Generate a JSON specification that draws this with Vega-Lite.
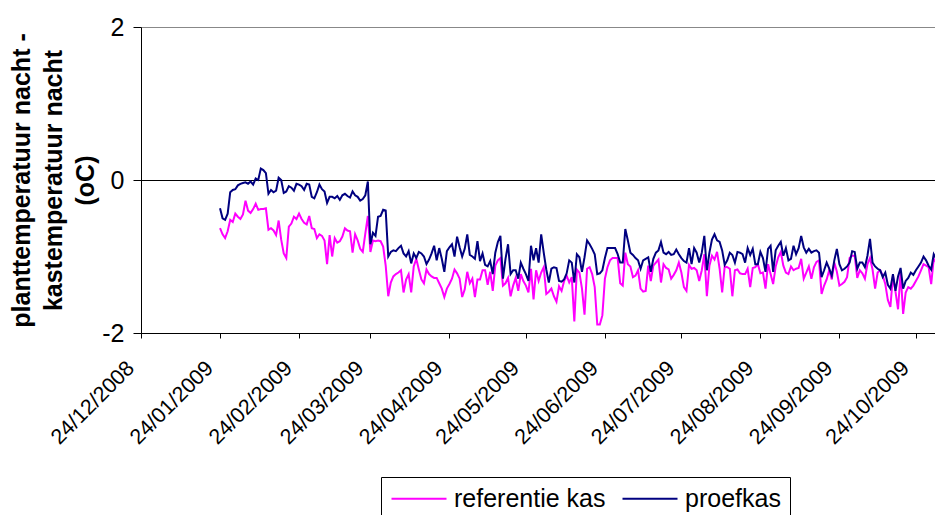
{
"$schema": "https://vega.github.io/schema/vega-lite/v6.json",
"width": 794, "height": 306,
"autosize": {"type": "none"},
"padding": {"left": 141, "top": 27, "right": 0, "bottom": 182},
"background": "white",
"config": {"view": {"stroke": null}, "font": "Liberation Sans"},
"data": {"format": {"parse": {"d": "utc:'%Y-%m-%d'"}}, "values": [
{"d":"2009-01-24","r":-0.63,"p":-0.37},{"d":"2009-01-25","r":-0.71,"p":-0.50},{"d":"2009-01-26","r":-0.76,"p":-0.52},{"d":"2009-01-27","r":-0.67,"p":-0.44},{"d":"2009-01-28","r":-0.52,"p":-0.16},{"d":"2009-01-29","r":-0.55,"p":-0.13},{"d":"2009-01-30","r":-0.44,"p":-0.12},{"d":"2009-01-31","r":-0.48,"p":-0.07},
{"d":"2009-02-01","r":-0.51,"p":-0.05},{"d":"2009-02-02","r":-0.45,"p":-0.04},{"d":"2009-02-03","r":-0.27,"p":-0.03},{"d":"2009-02-04","r":-0.40,"p":-0.05},{"d":"2009-02-05","r":-0.43,"p":-0.02},{"d":"2009-02-06","r":-0.38,"p":-0.06},{"d":"2009-02-07","r":-0.31,"p":0.02},{"d":"2009-02-08","r":-0.39,"p":0.00},{"d":"2009-02-09","r":-0.38,"p":0.15},{"d":"2009-02-10","r":-0.38,"p":0.13},{"d":"2009-02-11","r":-0.37,"p":0.09},{"d":"2009-02-12","r":-0.65,"p":-0.18},{"d":"2009-02-13","r":-0.63,"p":-0.13},{"d":"2009-02-14","r":-0.66,"p":-0.16},{"d":"2009-02-15","r":-0.72,"p":-0.14},{"d":"2009-02-16","r":-0.53,"p":0.03},{"d":"2009-02-17","r":-0.78,"p":0.00},{"d":"2009-02-18","r":-0.96,"p":-0.17},{"d":"2009-02-19","r":-1.02,"p":-0.15},{"d":"2009-02-20","r":-0.61,"p":-0.08},{"d":"2009-02-21","r":-0.57,"p":-0.10},{"d":"2009-02-22","r":-0.48,"p":-0.14},{"d":"2009-02-23","r":-0.51,"p":-0.05},{"d":"2009-02-24","r":-0.44,"p":-0.06},{"d":"2009-02-25","r":-0.51,"p":-0.08},{"d":"2009-02-26","r":-0.56,"p":-0.13},{"d":"2009-02-27","r":-0.58,"p":-0.05},{"d":"2009-02-28","r":-0.47,"p":-0.06},
{"d":"2009-03-01","r":-0.63,"p":-0.22},{"d":"2009-03-02","r":-0.64,"p":-0.24},{"d":"2009-03-03","r":-0.76,"p":-0.16},{"d":"2009-03-04","r":-0.71,"p":-0.06},{"d":"2009-03-05","r":-0.73,"p":-0.12},{"d":"2009-03-06","r":-0.79,"p":-0.15},{"d":"2009-03-07","r":-1.10,"p":-0.30},{"d":"2009-03-08","r":-0.72,"p":-0.22},{"d":"2009-03-09","r":-1.00,"p":-0.22},{"d":"2009-03-10","r":-0.76,"p":-0.24},{"d":"2009-03-11","r":-0.82,"p":-0.21},{"d":"2009-03-12","r":-0.80,"p":-0.26},{"d":"2009-03-13","r":-0.74,"p":-0.20},{"d":"2009-03-14","r":-0.63,"p":-0.18},{"d":"2009-03-15","r":-0.66,"p":-0.21},{"d":"2009-03-16","r":-0.67,"p":-0.23},{"d":"2009-03-17","r":-0.95,"p":-0.15},{"d":"2009-03-18","r":-0.71,"p":-0.20},{"d":"2009-03-19","r":-0.79,"p":-0.22},{"d":"2009-03-20","r":-0.90,"p":-0.27},{"d":"2009-03-21","r":-0.94,"p":-0.25},{"d":"2009-03-22","r":-0.70,"p":-0.20},{"d":"2009-03-23","r":-0.47,"p":-0.02},{"d":"2009-03-24","r":-0.94,"p":-0.84},{"d":"2009-03-25","r":-0.79,"p":-0.69},{"d":"2009-03-26","r":-0.80,"p":-0.73},{"d":"2009-03-27","r":-0.79,"p":-0.48},{"d":"2009-03-28","r":-0.80,"p":-0.47},{"d":"2009-03-29","r":-0.87,"p":-0.39},{"d":"2009-03-30","r":-1.12,"p":-0.40},{"d":"2009-03-31","r":-1.52,"p":-1.00},
{"d":"2009-04-01","r":-1.34,"p":-0.94},{"d":"2009-04-02","r":-1.26,"p":-0.92},{"d":"2009-04-03","r":-1.23,"p":-0.93},{"d":"2009-04-04","r":-1.21,"p":-0.89},{"d":"2009-04-05","r":-1.18,"p":-0.86},{"d":"2009-04-06","r":-1.47,"p":-0.96},{"d":"2009-04-07","r":-1.30,"p":-1.00},{"d":"2009-04-08","r":-1.23,"p":-0.93},{"d":"2009-04-09","r":-1.47,"p":-1.09},{"d":"2009-04-10","r":-1.13,"p":-0.96},{"d":"2009-04-11","r":-1.03,"p":-1.02},{"d":"2009-04-12","r":-1.17,"p":-0.94},{"d":"2009-04-13","r":-1.30,"p":-0.96},{"d":"2009-04-14","r":-1.35,"p":-1.00},{"d":"2009-04-15","r":-1.17,"p":-1.10},{"d":"2009-04-16","r":-1.23,"p":-1.04},{"d":"2009-04-17","r":-1.26,"p":-0.96},{"d":"2009-04-18","r":-1.28,"p":-0.86},{"d":"2009-04-19","r":-1.28,"p":-1.05},{"d":"2009-04-20","r":-1.35,"p":-0.89},{"d":"2009-04-21","r":-1.42,"p":-1.03},{"d":"2009-04-22","r":-1.53,"p":-1.20},{"d":"2009-04-23","r":-1.42,"p":-0.93},{"d":"2009-04-24","r":-1.36,"p":-0.88},{"d":"2009-04-25","r":-1.29,"p":-0.84},{"d":"2009-04-26","r":-1.17,"p":-1.00},{"d":"2009-04-27","r":-1.22,"p":-0.74},{"d":"2009-04-28","r":-1.29,"p":-0.88},{"d":"2009-04-29","r":-1.53,"p":-1.00},{"d":"2009-04-30","r":-1.43,"p":-0.90},
{"d":"2009-05-01","r":-1.20,"p":-0.71},{"d":"2009-05-02","r":-1.35,"p":-0.98},{"d":"2009-05-03","r":-1.29,"p":-1.00},{"d":"2009-05-04","r":-1.53,"p":-1.03},{"d":"2009-05-05","r":-1.30,"p":-0.80},{"d":"2009-05-06","r":-1.30,"p":-1.06},{"d":"2009-05-07","r":-1.18,"p":-0.96},{"d":"2009-05-08","r":-1.18,"p":-1.11},{"d":"2009-05-09","r":-1.37,"p":-1.13},{"d":"2009-05-10","r":-1.20,"p":-1.06},{"d":"2009-05-11","r":-1.45,"p":-1.23},{"d":"2009-05-12","r":-1.12,"p":-0.95},{"d":"2009-05-13","r":-1.05,"p":-0.81},{"d":"2009-05-14","r":-1.02,"p":-0.73},{"d":"2009-05-15","r":-1.38,"p":-1.29},{"d":"2009-05-16","r":-1.35,"p":-1.03},{"d":"2009-05-17","r":-1.28,"p":-0.84},{"d":"2009-05-18","r":-1.52,"p":-1.23},{"d":"2009-05-19","r":-1.38,"p":-1.18},{"d":"2009-05-20","r":-1.28,"p":-1.18},{"d":"2009-05-21","r":-1.45,"p":-1.29},{"d":"2009-05-22","r":-1.23,"p":-1.08},{"d":"2009-05-23","r":-1.32,"p":-1.16},{"d":"2009-05-24","r":-1.38,"p":-1.23},{"d":"2009-05-25","r":-1.47,"p":-1.32},{"d":"2009-05-26","r":-1.16,"p":-0.86},{"d":"2009-05-27","r":-1.56,"p":-1.05},{"d":"2009-05-28","r":-1.18,"p":-0.89},{"d":"2009-05-29","r":-1.32,"p":-1.08},{"d":"2009-05-30","r":-1.21,"p":-0.71},{"d":"2009-05-31","r":-1.14,"p":-0.95},
{"d":"2009-06-01","r":-1.49,"p":-1.17},{"d":"2009-06-02","r":-1.46,"p":-1.34},{"d":"2009-06-03","r":-1.42,"p":-1.16},{"d":"2009-06-04","r":-1.52,"p":-1.14},{"d":"2009-06-05","r":-1.59,"p":-1.15},{"d":"2009-06-06","r":-1.39,"p":-1.32},{"d":"2009-06-07","r":-1.45,"p":-1.33},{"d":"2009-06-08","r":-1.32,"p":-1.30},{"d":"2009-06-09","r":-1.25,"p":-1.22},{"d":"2009-06-10","r":-1.34,"p":-1.05},{"d":"2009-06-11","r":-1.27,"p":-1.08},{"d":"2009-06-12","r":-1.85,"p":-1.34},{"d":"2009-06-13","r":-1.17,"p":-0.97},{"d":"2009-06-14","r":-1.21,"p":-1.01},{"d":"2009-06-15","r":-1.42,"p":-1.20},{"d":"2009-06-16","r":-1.76,"p":-1.01},{"d":"2009-06-17","r":-1.16,"p":-0.79},{"d":"2009-06-18","r":-1.14,"p":-0.84},{"d":"2009-06-19","r":-1.23,"p":-0.90},{"d":"2009-06-20","r":-1.40,"p":-0.97},{"d":"2009-06-21","r":-1.89,"p":-1.23},{"d":"2009-06-22","r":-1.89,"p":-1.22},{"d":"2009-06-23","r":-1.77,"p":-1.18},{"d":"2009-06-24","r":-1.29,"p":-1.02},{"d":"2009-06-25","r":-1.14,"p":-0.89},{"d":"2009-06-26","r":-1.05,"p":-0.89},{"d":"2009-06-27","r":-1.02,"p":-0.89},{"d":"2009-06-28","r":-1.02,"p":-0.89},{"d":"2009-06-29","r":-1.02,"p":-0.97},{"d":"2009-06-30","r":-1.35,"p":-1.08},
{"d":"2009-07-01","r":-1.38,"p":-1.08},{"d":"2009-07-02","r":-0.95,"p":-0.64},{"d":"2009-07-03","r":-1.10,"p":-0.79},{"d":"2009-07-04","r":-1.13,"p":-0.95},{"d":"2009-07-05","r":-1.27,"p":-0.98},{"d":"2009-07-06","r":-1.25,"p":-1.02},{"d":"2009-07-07","r":-1.18,"p":-1.05},{"d":"2009-07-08","r":-1.42,"p":-1.16},{"d":"2009-07-09","r":-1.46,"p":-1.05},{"d":"2009-07-10","r":-1.45,"p":-1.03},{"d":"2009-07-11","r":-1.12,"p":-1.01},{"d":"2009-07-12","r":-1.32,"p":-1.20},{"d":"2009-07-13","r":-1.12,"p":-1.03},{"d":"2009-07-14","r":-1.08,"p":-0.95},{"d":"2009-07-15","r":-1.04,"p":-0.92},{"d":"2009-07-16","r":-1.34,"p":-0.81},{"d":"2009-07-17","r":-1.10,"p":-0.95},{"d":"2009-07-18","r":-1.15,"p":-0.97},{"d":"2009-07-19","r":-1.17,"p":-0.94},{"d":"2009-07-20","r":-1.29,"p":-0.98},{"d":"2009-07-21","r":-1.24,"p":-0.97},{"d":"2009-07-22","r":-1.18,"p":-0.91},{"d":"2009-07-23","r":-1.08,"p":-0.97},{"d":"2009-07-24","r":-1.21,"p":-1.02},{"d":"2009-07-25","r":-1.40,"p":-1.06},{"d":"2009-07-26","r":-1.45,"p":-1.08},{"d":"2009-07-27","r":-1.11,"p":-0.89},{"d":"2009-07-28","r":-1.16,"p":-1.10},{"d":"2009-07-29","r":-1.15,"p":-0.89},{"d":"2009-07-30","r":-1.18,"p":-0.95},{"d":"2009-07-31","r":-1.32,"p":-1.08},
{"d":"2009-08-01","r":-1.18,"p":-0.95},{"d":"2009-08-02","r":-0.97,"p":-0.73},{"d":"2009-08-03","r":-1.52,"p":-1.18},{"d":"2009-08-04","r":-1.12,"p":-0.95},{"d":"2009-08-05","r":-0.99,"p":-0.78},{"d":"2009-08-06","r":-1.04,"p":-0.71},{"d":"2009-08-07","r":-0.94,"p":-0.79},{"d":"2009-08-08","r":-1.16,"p":-0.81},{"d":"2009-08-09","r":-1.47,"p":-0.92},{"d":"2009-08-10","r":-1.13,"p":-1.11},{"d":"2009-08-11","r":-1.14,"p":-1.05},{"d":"2009-08-12","r":-1.16,"p":-0.95},{"d":"2009-08-13","r":-1.52,"p":-0.98},{"d":"2009-08-14","r":-1.18,"p":-1.08},{"d":"2009-08-15","r":-1.17,"p":-0.94},{"d":"2009-08-16","r":-1.22,"p":-0.95},{"d":"2009-08-17","r":-1.23,"p":-0.97},{"d":"2009-08-18","r":-1.23,"p":-1.08},{"d":"2009-08-19","r":-1.16,"p":-0.89},{"d":"2009-08-20","r":-1.40,"p":-0.98},{"d":"2009-08-21","r":-1.15,"p":-0.90},{"d":"2009-08-22","r":-1.14,"p":-1.10},{"d":"2009-08-23","r":-1.10,"p":-1.10},{"d":"2009-08-24","r":-1.22,"p":-0.94},{"d":"2009-08-25","r":-1.21,"p":-1.02},{"d":"2009-08-26","r":-1.42,"p":-1.20},{"d":"2009-08-27","r":-1.10,"p":-0.90},{"d":"2009-08-28","r":-1.23,"p":-0.86},{"d":"2009-08-29","r":-1.36,"p":-1.20},{"d":"2009-08-30","r":-1.13,"p":-0.92},{"d":"2009-08-31","r":-1.01,"p":-0.86},
{"d":"2009-09-01","r":-0.94,"p":-0.81},{"d":"2009-09-02","r":-1.12,"p":-0.99},{"d":"2009-09-03","r":-1.21,"p":-0.89},{"d":"2009-09-04","r":-1.23,"p":-1.05},{"d":"2009-09-05","r":-1.13,"p":-1.03},{"d":"2009-09-06","r":-1.18,"p":-0.86},{"d":"2009-09-07","r":-1.16,"p":-0.97},{"d":"2009-09-08","r":-1.15,"p":-0.89},{"d":"2009-09-09","r":-1.03,"p":-0.73},{"d":"2009-09-10","r":-1.29,"p":-0.88},{"d":"2009-09-11","r":-1.21,"p":-0.95},{"d":"2009-09-12","r":-1.13,"p":-0.90},{"d":"2009-09-13","r":-1.29,"p":-0.95},{"d":"2009-09-14","r":-1.14,"p":-0.93},{"d":"2009-09-15","r":-1.07,"p":-0.92},{"d":"2009-09-16","r":-1.05,"p":-0.95},{"d":"2009-09-17","r":-1.49,"p":-1.27},{"d":"2009-09-18","r":-1.38,"p":-1.18},{"d":"2009-09-19","r":-1.30,"p":-1.08},{"d":"2009-09-20","r":-1.18,"p":-1.16},{"d":"2009-09-21","r":-1.30,"p":-1.25},{"d":"2009-09-22","r":-1.08,"p":-1.05},{"d":"2009-09-23","r":-1.20,"p":-0.90},{"d":"2009-09-24","r":-1.38,"p":-1.10},{"d":"2009-09-25","r":-1.36,"p":-1.18},{"d":"2009-09-26","r":-1.33,"p":-1.16},{"d":"2009-09-27","r":-1.27,"p":-1.13},{"d":"2009-09-28","r":-1.02,"p":-1.08},{"d":"2009-09-29","r":-0.99,"p":-0.93},{"d":"2009-09-30","r":-0.99,"p":-0.94},
{"d":"2009-10-01","r":-1.28,"p":-1.16},{"d":"2009-10-02","r":-1.18,"p":-1.08},{"d":"2009-10-03","r":-1.22,"p":-1.08},{"d":"2009-10-04","r":-1.29,"p":-1.14},{"d":"2009-10-05","r":-1.10,"p":-0.99},{"d":"2009-10-06","r":-1.02,"p":-0.77},{"d":"2009-10-07","r":-1.17,"p":-1.08},{"d":"2009-10-08","r":-1.42,"p":-1.13},{"d":"2009-10-09","r":-1.21,"p":-1.16},{"d":"2009-10-10","r":-1.18,"p":-1.18},{"d":"2009-10-11","r":-1.25,"p":-1.27},{"d":"2009-10-12","r":-1.36,"p":-1.21},{"d":"2009-10-13","r":-1.57,"p":-1.37},{"d":"2009-10-14","r":-1.66,"p":-1.42},{"d":"2009-10-15","r":-1.25,"p":-1.23},{"d":"2009-10-16","r":-1.46,"p":-1.45},{"d":"2009-10-17","r":-1.69,"p":-1.26},{"d":"2009-10-18","r":-1.21,"p":-1.15},{"d":"2009-10-19","r":-1.75,"p":-1.42},{"d":"2009-10-20","r":-1.47,"p":-1.32},{"d":"2009-10-21","r":-1.40,"p":-1.28},{"d":"2009-10-22","r":-1.42,"p":-1.21},{"d":"2009-10-23","r":-1.38,"p":-1.24},{"d":"2009-10-24","r":-1.32,"p":-1.18},{"d":"2009-10-25","r":-1.26,"p":-1.13},{"d":"2009-10-26","r":-1.18,"p":-1.08},{"d":"2009-10-27","r":-1.10,"p":-1.00},{"d":"2009-10-28","r":-1.12,"p":-1.05},{"d":"2009-10-29","r":-1.14,"p":-1.12},{"d":"2009-10-30","r":-1.36,"p":-1.17},{"d":"2009-10-31","r":-1.03,"p":-0.97},{"d":"2009-11-01","r":-1.08,"p":-1.03}
]},
"transform": [{"fold": ["r", "p"], "as": ["s", "v"]}],
"mark": {"type": "line", "strokeWidth": 2, "clip": true},
"encoding": {
  "x": {"field": "d", "type": "temporal",
    "scale": {"type": "utc", "domain": [{"year": 2008, "month": 12, "date": 24, "utc": true}, {"year": 2009, "month": 10, "date": 31, "hours": 12, "utc": true}]},
    "axis": {"title": null, "grid": false, "format": "%d/%m/%Y", "labelAngle": -45, "labelAlign": "right", "labelBaseline": "alphabetic", "labelFontSize": 21.5, "labelColor": "black", "labelFlush": false, "labelOverlap": false, "labelBound": false, "labelPadding": 31, "labelOffset": -6, "tickSize": 5, "tickColor": "black", "domainColor": "black",
      "values": [{"year": 2008, "month": 12, "date": 24, "utc": true}, {"year": 2009, "month": 1, "date": 24, "utc": true}, {"year": 2009, "month": 2, "date": 24, "utc": true}, {"year": 2009, "month": 3, "date": 24, "utc": true}, {"year": 2009, "month": 4, "date": 24, "utc": true}, {"year": 2009, "month": 5, "date": 24, "utc": true}, {"year": 2009, "month": 6, "date": 24, "utc": true}, {"year": 2009, "month": 7, "date": 24, "utc": true}, {"year": 2009, "month": 8, "date": 24, "utc": true}, {"year": 2009, "month": 9, "date": 24, "utc": true}, {"year": 2009, "month": 10, "date": 24, "utc": true}]}},
  "y": {"field": "v", "type": "quantitative",
    "scale": {"domain": [-2, 2], "nice": false, "zero": false},
    "axis": {"values": [-2, 0, 2], "labelExpr": "'' + datum.value", "labelFontSize": 25, "labelColor": "black", "labelPadding": 9, "tickSize": 8, "tickColor": "black", "domainColor": "black",
      "grid": true, "gridColor": {"condition": {"test": "datum.value == 2", "value": "#888888"}, "value": "#000000"}, "gridOpacity": 1,
      "title": ["planttemperatuur nacht -", "kastemperatuur nacht", "(oC)"], "titleFontSize": 25, "titleFontWeight": "bold", "titleColor": "black", "titleLineHeight": 32, "titleAngle": -90, "titleAlign": "center", "titleBaseline": "middle", "titleX": -120, "titleY": 153}},
  "color": {"field": "s", "type": "nominal",
    "scale": {"domain": ["r", "p"], "range": ["#FF00FF", "#000080"]},
    "legend": {"orient": "none", "legendX": 240, "legendY": 450, "direction": "horizontal", "title": null, "symbolType": "M-1,0L4,0", "symbolSize": 484, "symbolStrokeWidth": 2, "labelFontSize": 25, "labelColor": "black", "labelLimit": 400, "labelOffset": 39, "columnPadding": 12, "padding": 9, "strokeColor": "black", "fillColor": "white",
      "labelExpr": "datum.value == 'r' ? 'referentie kas' : 'proefkas'"}}
}
}
